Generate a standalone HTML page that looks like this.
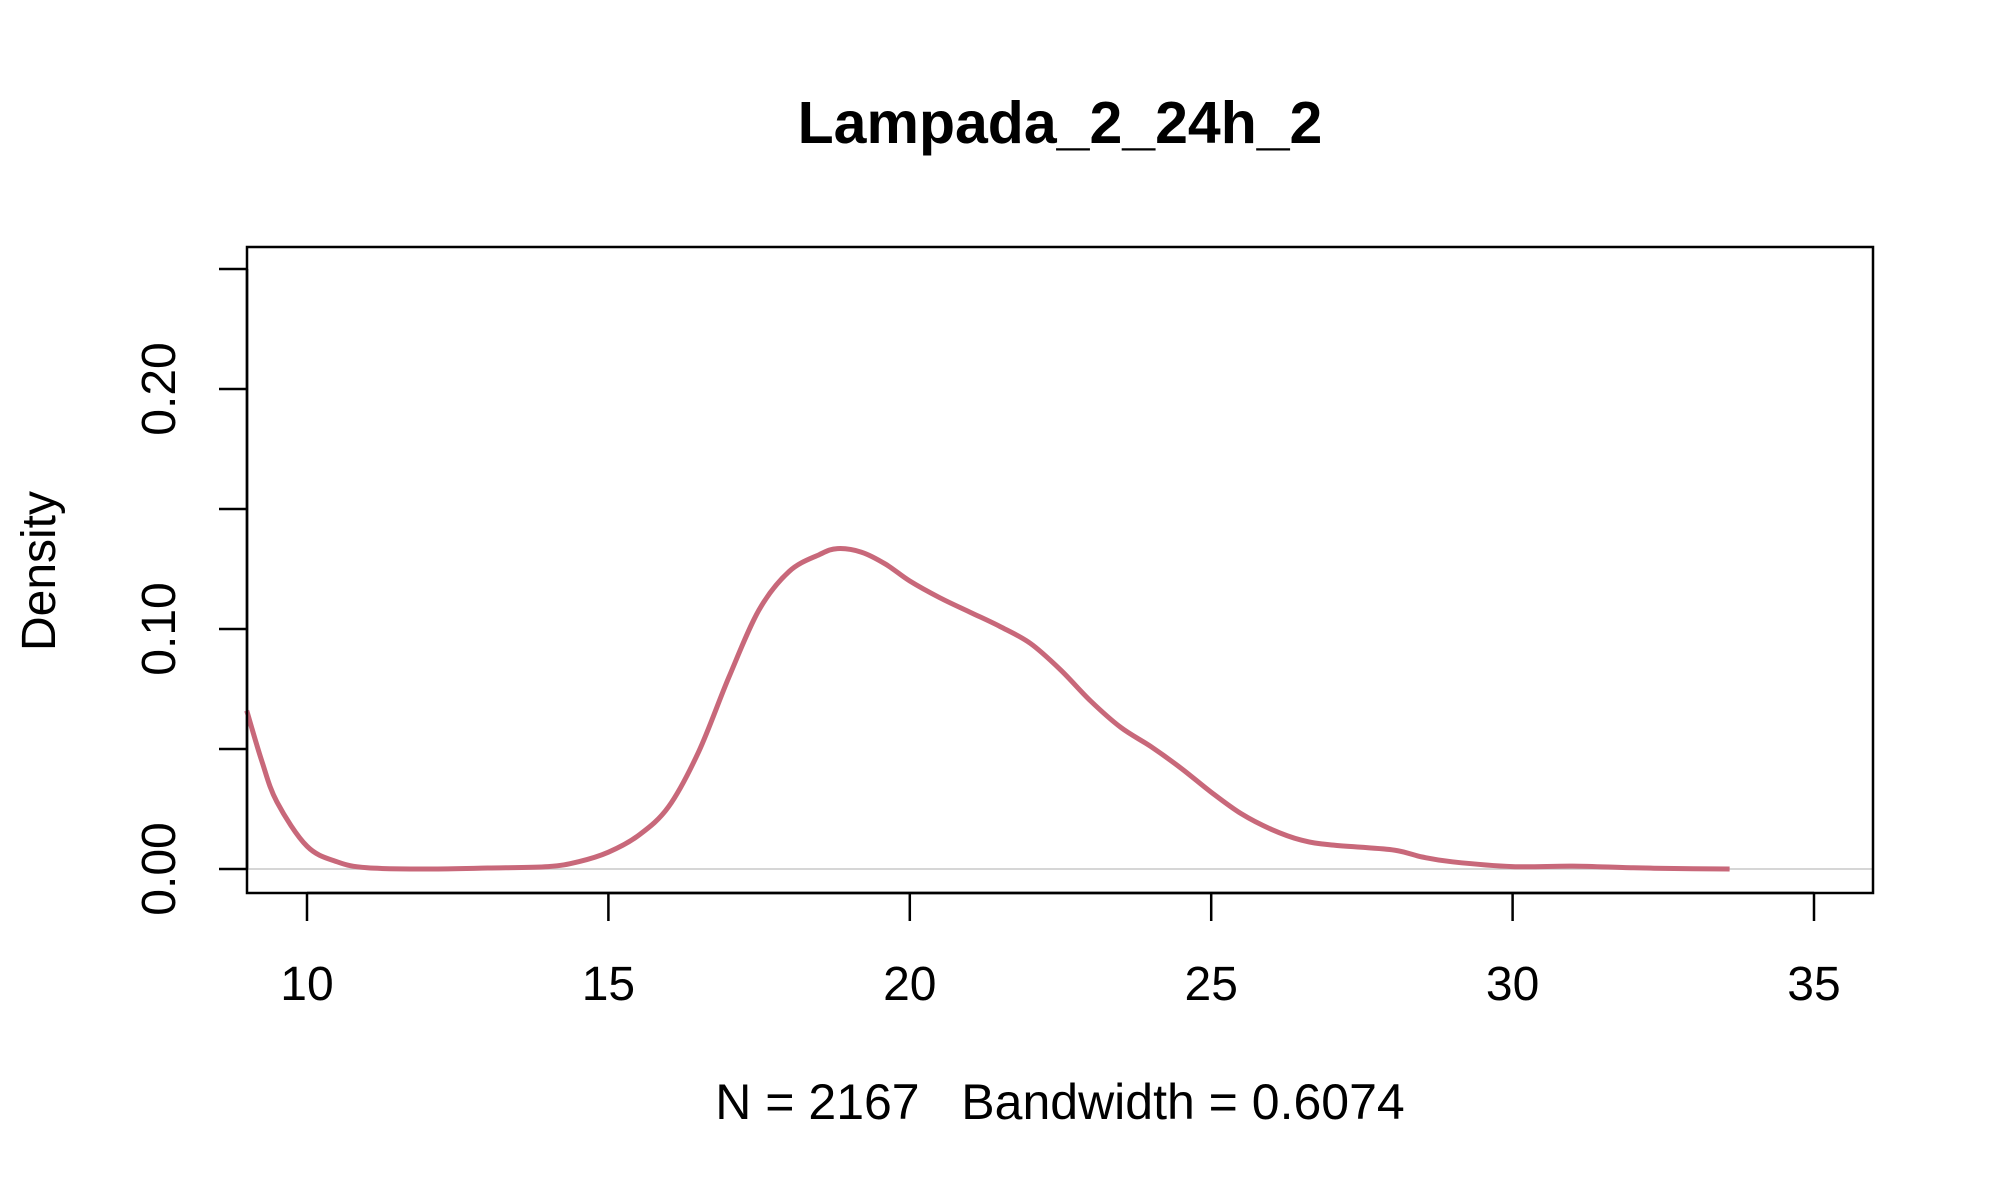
<!DOCTYPE html>
<html><head><meta charset="utf-8"><style>
html,body{margin:0;padding:0;background:#fff;}
svg{display:block;font-family:"Liberation Sans",Arial,sans-serif;}
</style></head><body>
<svg id="chart" width="2000" height="1200" viewBox="0 0 2000 1200">
<rect width="2000" height="1200" fill="#fff"/>
<text x="1060" y="143" font-size="59" font-weight="bold" text-anchor="middle">Lampada_2_24h_2</text>
<text x="1060" y="1119" font-size="50" text-anchor="middle" style="white-space:pre">N = 2167   Bandwidth = 0.6074</text>
<text transform="translate(55,571) rotate(-90)" font-size="48" text-anchor="middle">Density</text>
<g id="xaxis"></g>
<g id="yaxis"></g>
<line id="zeroline" stroke="#c8c8c8" stroke-width="1.5"/>
<path id="curve" fill="none" stroke="#c8687a" stroke-width="5" stroke-linejoin="round"/>
<rect x="247" y="247" width="1626" height="646" fill="none" stroke="#000" stroke-width="2.5"/>
</svg>
<script>
const xValues=[9,9.25,9.5,10,10.5,11,12,13,14,14.5,15,15.5,16,16.5,17,17.5,18,18.5,18.8,19.2,19.6,20,20.5,21,21.5,22,22.5,23,23.5,24,24.5,25,25.5,26,26.5,27,28,28.5,29,30,31,32,33,33.6];
const densityValues=[0.066,0.045,0.028,0.0095,0.003,0.0005,0,0.0004,0.001,0.003,0.007,0.014,0.026,0.049,0.080,0.108,0.124,0.131,0.1335,0.132,0.127,0.120,0.113,0.107,0.101,0.094,0.083,0.070,0.059,0.051,0.042,0.032,0.023,0.0165,0.012,0.010,0.008,0.005,0.003,0.001,0.0012,0.0005,0.0001,0];
const xTicks=[10,15,20,25,30,35];
const yTicks=[0,0.05,0.10,0.15,0.20,0.25];
const yTickLabels=["0.00","","0.10","","0.20",""];
const L=247,R=1873,T=247,B=893;
function sx(v){return 307+(v-10)*(1814-307)/25;}
function sy(v){return 869-v*2400;}
const NS="http://www.w3.org/2000/svg";
const xa=document.getElementById('xaxis'),ya=document.getElementById('yaxis');
function mk(tag,attrs,parent){const e=document.createElementNS(NS,tag);for(const k in attrs)e.setAttribute(k,attrs[k]);parent.appendChild(e);return e;}
mk('line',{x1:sx(xTicks[0]),x2:sx(xTicks[xTicks.length-1]),y1:B,y2:B,stroke:'#000','stroke-width':2.5},xa);
xTicks.forEach(t=>{
  const l=mk('line',{x1:sx(t),x2:sx(t),y1:B,y2:B+28,stroke:'#000','stroke-width':2.5},xa);
  
  
  const tx=mk('text',{x:sx(t),y:1000,'font-size':48,'text-anchor':'middle'},xa);
  tx.textContent=t;
  
  
});
mk('line',{x1:L,x2:L,y1:sy(yTicks[0]),y2:sy(yTicks[yTicks.length-1]),stroke:'#000','stroke-width':2.5},ya);
yTicks.forEach((t,i)=>{
  const l=mk('line',{x1:L-28,x2:L,y1:sy(t),y2:sy(t),stroke:'#000','stroke-width':2.5},ya);
  
  
  if(yTickLabels[i]){
    const tx=mk('text',{transform:`translate(175,${sy(t)}) rotate(-90)`,'font-size':48,'text-anchor':'middle'},ya);
    tx.textContent=yTickLabels[i];
    
    
  }
});
const z=document.getElementById('zeroline');
z.setAttribute('x1',L);z.setAttribute('x2',R);z.setAttribute('y1',sy(0));z.setAttribute('y2',sy(0));
const pts=xValues.map((x,i)=>[sx(x),sy(densityValues[i])]);
let d=`M${pts[0][0]},${pts[0][1]}`;
for(let i=0;i<pts.length-1;i++){
  const p0=pts[Math.max(0,i-1)],p1=pts[i],p2=pts[i+1],p3=pts[Math.min(pts.length-1,i+2)];
  const c1=[p1[0]+(p2[0]-p0[0])/6,p1[1]+(p2[1]-p0[1])/6];
  const c2=[p2[0]-(p3[0]-p1[0])/6,p2[1]-(p3[1]-p1[1])/6];
  d+=` C${c1[0]},${c1[1]} ${c2[0]},${c2[1]} ${p2[0]},${p2[1]}`;
}
document.getElementById('curve').setAttribute('d',d);
</script>
</body></html>
